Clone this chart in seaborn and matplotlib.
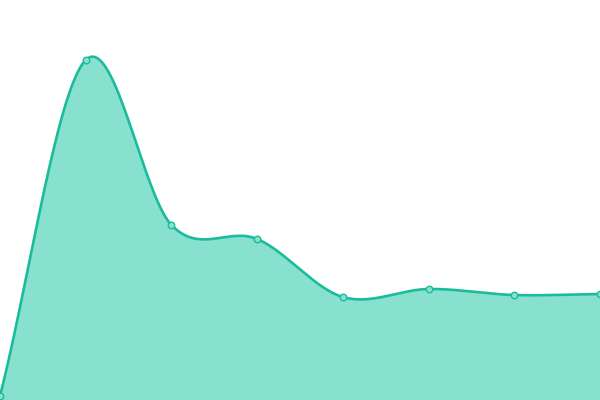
import numpy as np
import pandas as pd
import matplotlib
matplotlib.use("Agg")
import matplotlib.pyplot as plt
import seaborn as sns

categories = [0, 1, 2, 3, 4, 5, 6, 7]
values = [4, 340, 175, 161, 103, 111, 105, 106]

LINE = "#1abc9c"
FILL = "#88e0cf"

def catmull_rom(x, y, n=60):
    x = np.asarray(x, float); y = np.asarray(y, float)
    xs, ys = [], []
    N = len(x)
    for i in range(N - 1):
        y0 = y[i - 1] if i > 0 else y[i]
        y3 = y[i + 2] if i + 2 < N else y[i + 1]
        m1 = (y[i + 1] - y0) / (2 if i > 0 else 1)
        m2 = (y3 - y[i]) / (2 if i + 2 < N else 1)
        t = np.linspace(0, 1, n, endpoint=(i == N - 2))
        h00 = 2*t**3 - 3*t**2 + 1
        h10 = t**3 - 2*t**2 + t
        h01 = -2*t**3 + 3*t**2
        h11 = t**3 - t**2
        xs.append(x[i] + t * (x[i + 1] - x[i]))
        ys.append(h00*y[i] + h10*m1 + h01*y[i + 1] + h11*m2)
    return np.concatenate(xs), np.concatenate(ys)

sns.set_theme(style="white")
fig = plt.figure(figsize=(6, 4), dpi=100)
ax = fig.add_axes([0, 0, 1, 1])

sx, sy = catmull_rom(categories, values)
curve = pd.DataFrame({"x": sx, "y": sy})
ax.fill_between(sx, sy, 0, color=FILL, linewidth=0, zorder=1)
sns.lineplot(data=curve, x="x", y="y", ax=ax, color=LINE, linewidth=1.9, zorder=2)
pts = pd.DataFrame({"x": categories, "y": values})
sns.scatterplot(data=pts, x="x", y="y", ax=ax, s=22, color=FILL,
                edgecolor=LINE, linewidth=1.0, zorder=3, clip_on=False)

ax.set_xlim(0, 7)
ax.set_ylim(0, 400)
ax.set_axis_off()
fig.savefig("out.png", dpi=100)
